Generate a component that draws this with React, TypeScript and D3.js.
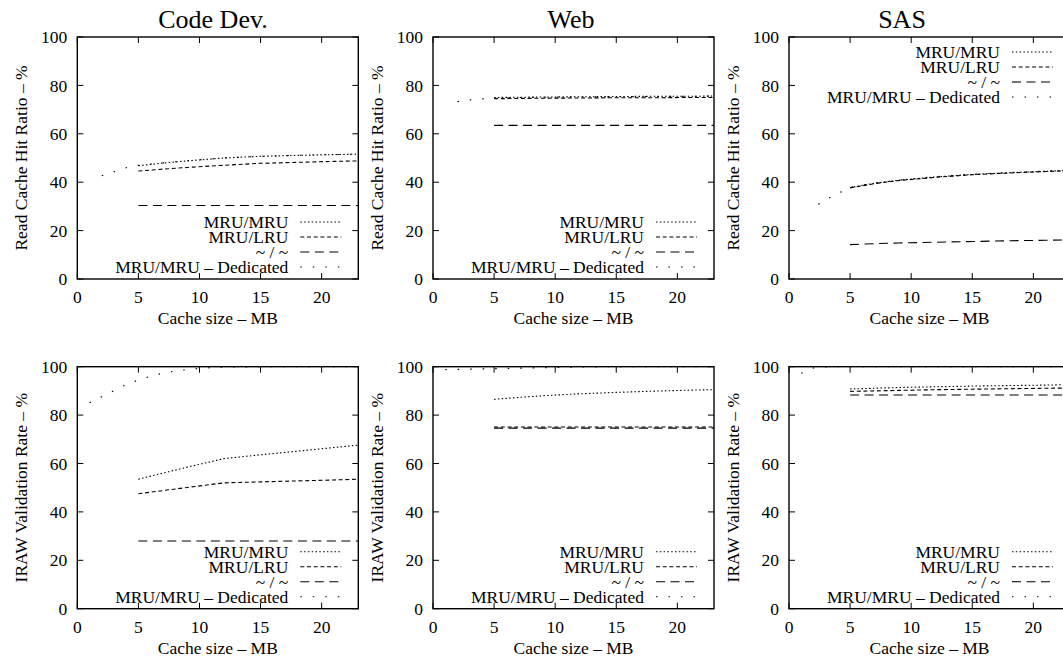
import React from "react";
import * as d3 from "d3";

// cache sizes (MB) where the policies were measured
const sizes = [5, 7, 9, 12, 15, 18, 21, 23];
const dedReadSizes = [2, 3, 4, 5, 7, 9, 12, 15, 18, 21, 23];
const sasDedReadSizes = [2.4, 3.3, 4.3, 5, 7, 9, 12, 15, 18, 21, 23];
const dedIrawSizes = [1, 2, 3, 4, 5, 6, 7, 8, 9, 10, 11, 12, 15, 18, 21, 23];

const workloads = ["Code Dev.", "Web", "SAS"];
const seriesNames = ["MRU/MRU", "MRU/LRU", "~ / ~", "MRU/MRU – Dedicated"];
const xTicks = [0, 5, 10, 15, 20];
const yTicks = [0, 20, 40, 60, 80, 100];

// Read cache hit ratio
const codeReadMruMru = [46.8, 47.9, 48.8, 50.0, 50.7, 51.1, 51.4, 51.6];
const codeReadMruLru = [44.6, 45.4, 46.1, 47.0, 47.8, 48.2, 48.6, 48.8];
const codeReadTilde = [30.4, 30.4, 30.4, 30.4, 30.4, 30.4, 30.4, 30.4];
const codeReadDed = [42.7, 44.3, 46.0, 47.0, 48.0, 48.9, 50.0, 50.7, 51.1, 51.4, 51.6];

const webReadMruMru = [75.0, 75.1, 75.2, 75.3, 75.4, 75.5, 75.5, 75.6];
const webReadMruLru = [74.5, 74.6, 74.7, 74.8, 74.9, 74.9, 75.0, 75.0];
const webReadTilde = [63.5, 63.5, 63.5, 63.5, 63.5, 63.5, 63.5, 63.5];
const webReadDed = [73.3, 74.0, 74.4, 74.8, 75.0, 75.1, 75.2, 75.3, 75.4, 75.5, 75.6];

const sasReadMruMru = [37.8, 39.6, 40.8, 42.2, 43.2, 43.9, 44.5, 44.9];
const sasReadMruLru = [37.6, 39.4, 40.7, 42.0, 43.1, 43.8, 44.4, 44.8];
const sasReadTilde = [14.2, 14.6, 14.9, 15.2, 15.5, 15.8, 16.0, 16.2];
const sasReadDed = [30.9, 33.6, 36.1, 37.9, 39.7, 40.9, 42.3, 43.3, 44.0, 44.6, 45.0];

// IRAW validation rate
const codeIrawMruMru = [53.5, 56.0, 58.5, 62.0, 63.6, 65.1, 66.6, 67.6];
const codeIrawMruLru = [47.5, 48.8, 50.1, 52.0, 52.4, 52.8, 53.2, 53.5];
const codeIrawTilde = [28.0, 28.0, 28.0, 28.0, 28.0, 28.0, 28.0, 28.0];
const codeIrawDed = [85.1, 87.6, 90.1, 92.6, 94.5, 96.1, 97.3, 98.2, 98.9, 99.3, 99.6, 99.8, 100, 100, 100, 100];

const webIrawMruMru = [86.5, 87.3, 88.0, 88.8, 89.4, 89.9, 90.3, 90.5];
const webIrawMruLru = [75.1, 75.1, 75.1, 75.1, 75.1, 75.1, 75.1, 75.1];
const webIrawTilde = [74.6, 74.6, 74.6, 74.6, 74.6, 74.6, 74.6, 74.6];
const webIrawDed = [98.8, 98.9, 99.0, 99.1, 99.2, 99.3, 99.4, 99.5, 99.6, 99.7, 99.8, 99.9, 100, 100, 100, 100];

const sasIrawMruMru = [90.8, 91.1, 91.4, 91.7, 92.0, 92.2, 92.4, 92.6];
const sasIrawMruLru = [89.8, 90.0, 90.2, 90.5, 90.7, 90.9, 91.1, 91.2];
const sasIrawTilde = [88.3, 88.3, 88.3, 88.3, 88.3, 88.3, 88.3, 88.3];
const sasIrawDed = [97.3, 99.5, 99.9, 100, 100, 100, 100, 100, 100, 100, 100, 100, 100, 100, 100, 100];

const dashes = ["1.5,2.3", "4,2.7", "9,5.5", "1.5,11"];
const FONT = "'Liberation Serif', 'Times New Roman', serif";

type Series = { xs: number[]; ys: number[] };
type Panel = {
  title?: string;
  ylabel: string;
  left: number;
  top: number;
  legendTop: boolean;
  series: Series[];
};

const W = 281;
const H = 242;
const lefts = [77.3, 433, 789];
const tops = [37, 366.7];

const panels: Panel[] = [
  { title: workloads[0], ylabel: "Read Cache Hit Ratio – %", left: lefts[0], top: tops[0], legendTop: false,
    series: [{ xs: sizes, ys: codeReadMruMru }, { xs: sizes, ys: codeReadMruLru }, { xs: sizes, ys: codeReadTilde }, { xs: dedReadSizes, ys: codeReadDed }] },
  { title: workloads[1], ylabel: "Read Cache Hit Ratio – %", left: lefts[1], top: tops[0], legendTop: false,
    series: [{ xs: sizes, ys: webReadMruMru }, { xs: sizes, ys: webReadMruLru }, { xs: sizes, ys: webReadTilde }, { xs: dedReadSizes, ys: webReadDed }] },
  { title: workloads[2], ylabel: "Read Cache Hit Ratio – %", left: lefts[2], top: tops[0], legendTop: true,
    series: [{ xs: sizes, ys: sasReadMruMru }, { xs: sizes, ys: sasReadMruLru }, { xs: sizes, ys: sasReadTilde }, { xs: sasDedReadSizes, ys: sasReadDed }] },
  { ylabel: "IRAW Validation Rate – %", left: lefts[0], top: tops[1], legendTop: false,
    series: [{ xs: sizes, ys: codeIrawMruMru }, { xs: sizes, ys: codeIrawMruLru }, { xs: sizes, ys: codeIrawTilde }, { xs: dedIrawSizes, ys: codeIrawDed }] },
  { ylabel: "IRAW Validation Rate – %", left: lefts[1], top: tops[1], legendTop: false,
    series: [{ xs: sizes, ys: webIrawMruMru }, { xs: sizes, ys: webIrawMruLru }, { xs: sizes, ys: webIrawTilde }, { xs: dedIrawSizes, ys: webIrawDed }] },
  { ylabel: "IRAW Validation Rate – %", left: lefts[2], top: tops[1], legendTop: false,
    series: [{ xs: sizes, ys: sasIrawMruMru }, { xs: sizes, ys: sasIrawMruLru }, { xs: sizes, ys: sasIrawTilde }, { xs: dedIrawSizes, ys: sasIrawDed }] },
];

const titleX = [213, 571, 902];

function PanelView({ p, idx }: { p: Panel; idx: number }) {
  const x = d3.scaleLinear().domain([0, 23]).range([p.left, p.left + W]);
  const y = d3.scaleLinear().domain([0, 100]).range([p.top + H, p.top]);
  const bottom = p.top + H;
  const right = p.left + W;
  const line = d3.line<[number, number]>().x(d => x(d[0])).y(d => y(d[1]));

  const legendRows = p.legendTop ? [15, 30, 45, 60].map(o => p.top + o) : [57, 42, 27, 12].map(o => bottom - o);

  return (
    <g>
      {p.title && (
        <text x={titleX[idx % 3]} y={28} fontSize={26} textAnchor="middle">{p.title}</text>
      )}
      {/* series */}
      {p.series.map((s, i) => (
        <path key={i} d={line(s.xs.map((v, j) => [v, s.ys[j]] as [number, number])) || ""}
          fill="none" stroke="#000" strokeWidth={1.1} strokeDasharray={dashes[i]} />
      ))}
      {/* frame */}
      <rect x={p.left} y={p.top} width={W} height={H} fill="none" stroke="#000" strokeWidth={1.4} />
      {xTicks.map(t => (
        <g key={"x" + t}>
          <line x1={x(t)} x2={x(t)} y1={bottom} y2={bottom - 6} stroke="#000" strokeWidth={1} />
          <line x1={x(t)} x2={x(t)} y1={p.top} y2={p.top + 6} stroke="#000" strokeWidth={1} />
          <text x={x(t)} y={bottom + 24} fontSize={17.5} textAnchor="middle">{t}</text>
        </g>
      ))}
      {yTicks.map(t => (
        <g key={"y" + t}>
          <line x1={p.left} x2={p.left + 6} y1={y(t)} y2={y(t)} stroke="#000" strokeWidth={1} />
          <line x1={right} x2={right - 6} y1={y(t)} y2={y(t)} stroke="#000" strokeWidth={1} />
          <text x={p.left - 10} y={y(t)} dy="0.35em" fontSize={17.5} textAnchor="end">{t}</text>
        </g>
      ))}
      <text x={(p.left + right) / 2} y={bottom + 45} fontSize={17.5} textAnchor="middle">Cache size – MB</text>
      <text transform={`translate(${p.left - 50.5},${(p.top + bottom) / 2}) rotate(-90)`} fontSize={17.5} textAnchor="middle">{p.ylabel}</text>
      {/* legend */}
      {seriesNames.map((n, i) => (
        <g key={n}>
          <text x={right - 70} y={legendRows[i]} dy="0.35em" fontSize={17.5} textAnchor="end">{n}</text>
          <line x1={right - 58} x2={right - 17} y1={legendRows[i]} y2={legendRows[i]} stroke="#000" strokeWidth={1.1} strokeDasharray={dashes[i]} />
        </g>
      ))}
    </g>
  );
}

export default function App() {
  return (
    <svg width={1063} height={657} style={{ position: "absolute", left: 0, top: 0, background: "#fff" }}
      fontFamily={FONT}>
      <rect width={1063} height={657} fill="#fff" />
      {panels.map((p, i) => <PanelView key={i} p={p} idx={i} />)}
    </svg>
  );
}
